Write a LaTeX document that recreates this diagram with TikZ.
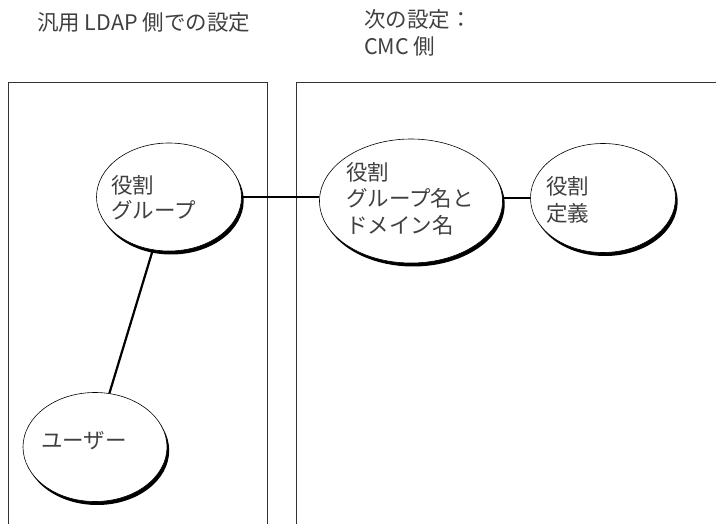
\documentclass[tikz,border=0pt]{standalone}
\usepackage{fontspec}
\setmainfont{Noto Sans CJK JP}
\usetikzlibrary{shapes.geometric}
\tikzset{
  panel/.style={draw=black!80, line width=0.9pt},
  bubble/.style={ellipse, draw=black, line width=0.6pt, fill=white, inner sep=0pt},
  bshadow/.style={fill=black},
  link/.style={draw=black, line width=2.2pt},
  txt/.style={anchor=base west, inner sep=0pt, align=left, text=black!75,
    font=\fontsize{21.5}{27}\selectfont},
}
\begin{document}
\begin{tikzpicture}[x=1pt,y=-1pt]
\useasboundingbox (0,0) rectangle (716,524);
% panels
\draw[panel] (8,524) -- (8,82) -- (267,82) -- (267,524);
\draw[panel] (296,524) -- (296,82) -- (717,82);
% headings
\node[txt] (h1) at (37,31) {汎用 LDAP 側での設定};
\node[txt] (h2) at (364,55) {次の設定：\\CMC 側};
% bubble shadows
\fill[bshadow] (171.2,200.5) ellipse [x radius=72.5pt, y radius=54pt];
\fill[bshadow] (413.2,204.5) ellipse [x radius=91.5pt, y radius=62pt];
\fill[bshadow] (605.2,201.5) ellipse [x radius=72.5pt, y radius=54.5pt];
\fill[bshadow] (97.2,450.5) ellipse [x radius=72pt, y radius=54.5pt];
% bubbles
\node[bubble, minimum width=145pt, minimum height=108pt] (e1) at (169,197) {};
\node[bubble, minimum width=183pt, minimum height=124pt] (e2) at (411,201) {};
\node[bubble, minimum width=145pt, minimum height=109pt] (e3) at (603,198) {};
\node[bubble, minimum width=144pt, minimum height=109pt] (e4) at (95,447) {};
% connectors
\draw[link] (e1.east) -- (e1.east -| e2.west);
\draw[link] (e2.east |- e3.west) -- (e3.west);
\draw[link] (e1.-107) -- (e4.75);
% labels
\node[txt, font=\fontsize{21.5}{25}\selectfont] (t1) at (111,219) {役割\\グループ};
\node[txt] (t2) at (346,234) {役割\\グループ名と\\ドメイン名};
\node[txt] (t3) at (546,222) {役割\\定義};
\node[txt] (t4) at (41,448) {ユーザー};
\end{tikzpicture}
\end{document}
